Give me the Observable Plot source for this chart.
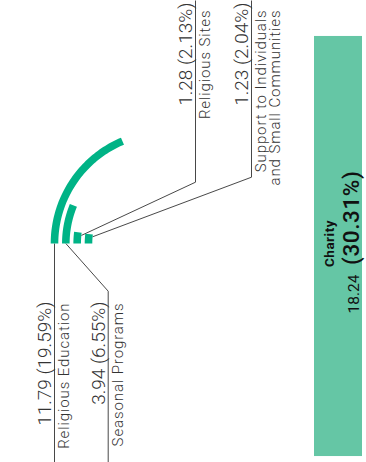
<!DOCTYPE html>
<html>
<head>
<meta charset="utf-8">
<script src="https://cdn.jsdelivr.net/npm/d3@7"></script>
<script src="https://cdn.jsdelivr.net/npm/@observablehq/plot@0.6"></script>
<style>
  html, body { margin: 0; padding: 0; background: #fff; }
  #chart svg { display: block; }
</style>
</head>
<body>
<div id="chart"></div>
<script>
// ---- data ----
const categories = ["Religious Education", "Seasonal Programs", "Religious Sites", "Support to Individuals\nand Small Communities"];
const values = [11.79, 3.94, 1.28, 1.23];
const shares = [19.59, 6.55, 2.13, 2.04];
const labelSide = ["left", "left", "right", "right"];
const highlightCategory = "Charity";
const highlightValue = 18.24;
const highlightShare = 30.31;

// ---- layout ----
const W = 366, H = 462;
const center = {x: 165, y: 243};
const degPerUnit = 5.7;
const barWidth = 7.6;
const radius = d3.scalePoint(categories, [111, 77]);
const angle = v => (v * degPerUnit) * Math.PI / 180;
const polar = (r, a) => ({x: center.x - r * Math.cos(a), y: center.y - r * Math.sin(a)});
const leftElbow = [null, {x: 107.7, y: 290.7}];
const rightElbow = [null, null, {x: 195, y: 181.7}, {x: 251, y: 176.7}];
const green = "#00b386";
const lightGreen = "#65c6a5";
const ink = "#333";

const rows = categories.map((c, i) => ({cat: c, value: values[i], share: shares[i], side: labelSide[i]}));

// arc points
const arcPts = rows.flatMap(d => {
  const a1 = angle(d.value), r = radius(d.cat);
  return d3.range(0, 61).map(k => ({cat: d.cat, ...polar(r, a1 * k / 60)}));
});

// leader lines
const leaderPts = rows.flatMap((d, i) => {
  const r = radius(d.cat);
  if (d.side === "left") {
    const p0 = polar(r, 0);
    const lineX = leftElbow[i] ? leftElbow[i].x : p0.x;
    const pts = [p0];
    if (leftElbow[i]) pts.push(leftElbow[i]);
    pts.push({x: lineX, y: H});
    return pts.map(p => ({cat: d.cat, ...p}));
  } else {
    const p0 = polar(r - barWidth / 2, angle(d.value) * 0.75);
    return [p0, rightElbow[i], {x: rightElbow[i].x, y: 0}].map(p => ({cat: d.cat, ...p}));
  }
});

const lineXOf = d => {
  const idx = categories.indexOf(d.cat);
  if (d.side === "left") return leftElbow[idx] ? leftElbow[idx].x : polar(radius(d.cat), 0).x;
  return rightElbow[idx].x;
};
const labelRows = rows.map(d => ({...d, lx: lineXOf(d), ly: d.side === "left" ? 301 : 2}));

const fmt = d => `${d.value.toFixed(2)} (${d.share.toFixed(2)}%)`;

const hl = [{cat: highlightCategory, value: highlightValue, share: highlightShare}];
const hlMid = 246, hlPxPerUnit = 23.03;

const chart = Plot.plot({
  width: W, height: H,
  margin: 0,
  x: {domain: [0, W], range: [0, W], axis: null},
  y: {domain: [0, H], range: [0, H], axis: null},
  style: {fontFamily: "Roboto, 'DejaVu Sans', sans-serif", background: "#fff"},
  marks: [
    Plot.rect(hl, {x1: 314, x2: 362, y1: d => hlMid - d.value * hlPxPerUnit / 2, y2: d => hlMid + d.value * hlPxPerUnit / 2, fill: lightGreen}),
    Plot.text(hl, {x: 329, y: hlMid - 3, text: d => d.cat, rotate: -90, textAnchor: "middle", lineAnchor: "middle", fontSize: 13.5, fontWeight: 700, fill: "#111"}),
    Plot.text(hl, {x: 358, y: hlMid + 67, text: d => d.value.toFixed(2), rotate: -90, textAnchor: "start", lineAnchor: "bottom", fontSize: 15.5, fill: "#111"}),
    Plot.text(hl, {x: 358.5, y: hlMid - 76, text: d => `(${d.share.toFixed(2)}%)`, rotate: -90, textAnchor: "end", lineAnchor: "bottom", fontSize: 22.5, fontWeight: 500, fill: "#111"}),
    Plot.line(leaderPts, {x: "x", y: "y", z: "cat", stroke: ink, strokeWidth: 0.9, strokeLinecap: "butt", strokeLinejoin: "miter"}),
    Plot.line(arcPts, {x: "x", y: "y", z: "cat", stroke: green, strokeWidth: barWidth, strokeLinecap: "butt"}),
    Plot.text(labelRows, {x: d => d.lx - 3.5, y: "ly", text: fmt, rotate: -90, textAnchor: "end", lineAnchor: "bottom", fontSize: 19, fontWeight: 300, fill: ink}),
    Plot.text(labelRows, {x: d => d.lx + 5, y: d => d.ly + (d.side === "left" ? 1 : 7), text: "cat", rotate: -90, textAnchor: "end", lineAnchor: "top", fontSize: 15, fontWeight: 300, fill: ink, lineHeight: 0.9})
  ]
});
// tracking (letter spacing) for the name labels and the highlighted share
d3.select(chart).selectAll('g[aria-label="text"]').each(function () {
  const fs = this.getAttribute("font-size");
  if (fs === "15") this.setAttribute("letter-spacing", "0.9px");
  if (fs === "22.5") this.setAttribute("letter-spacing", "0.6px");
  if (fs === "13.5") this.setAttribute("letter-spacing", "0.5px");
});
document.getElementById("chart").appendChild(chart);
</script>
</body>
</html>
